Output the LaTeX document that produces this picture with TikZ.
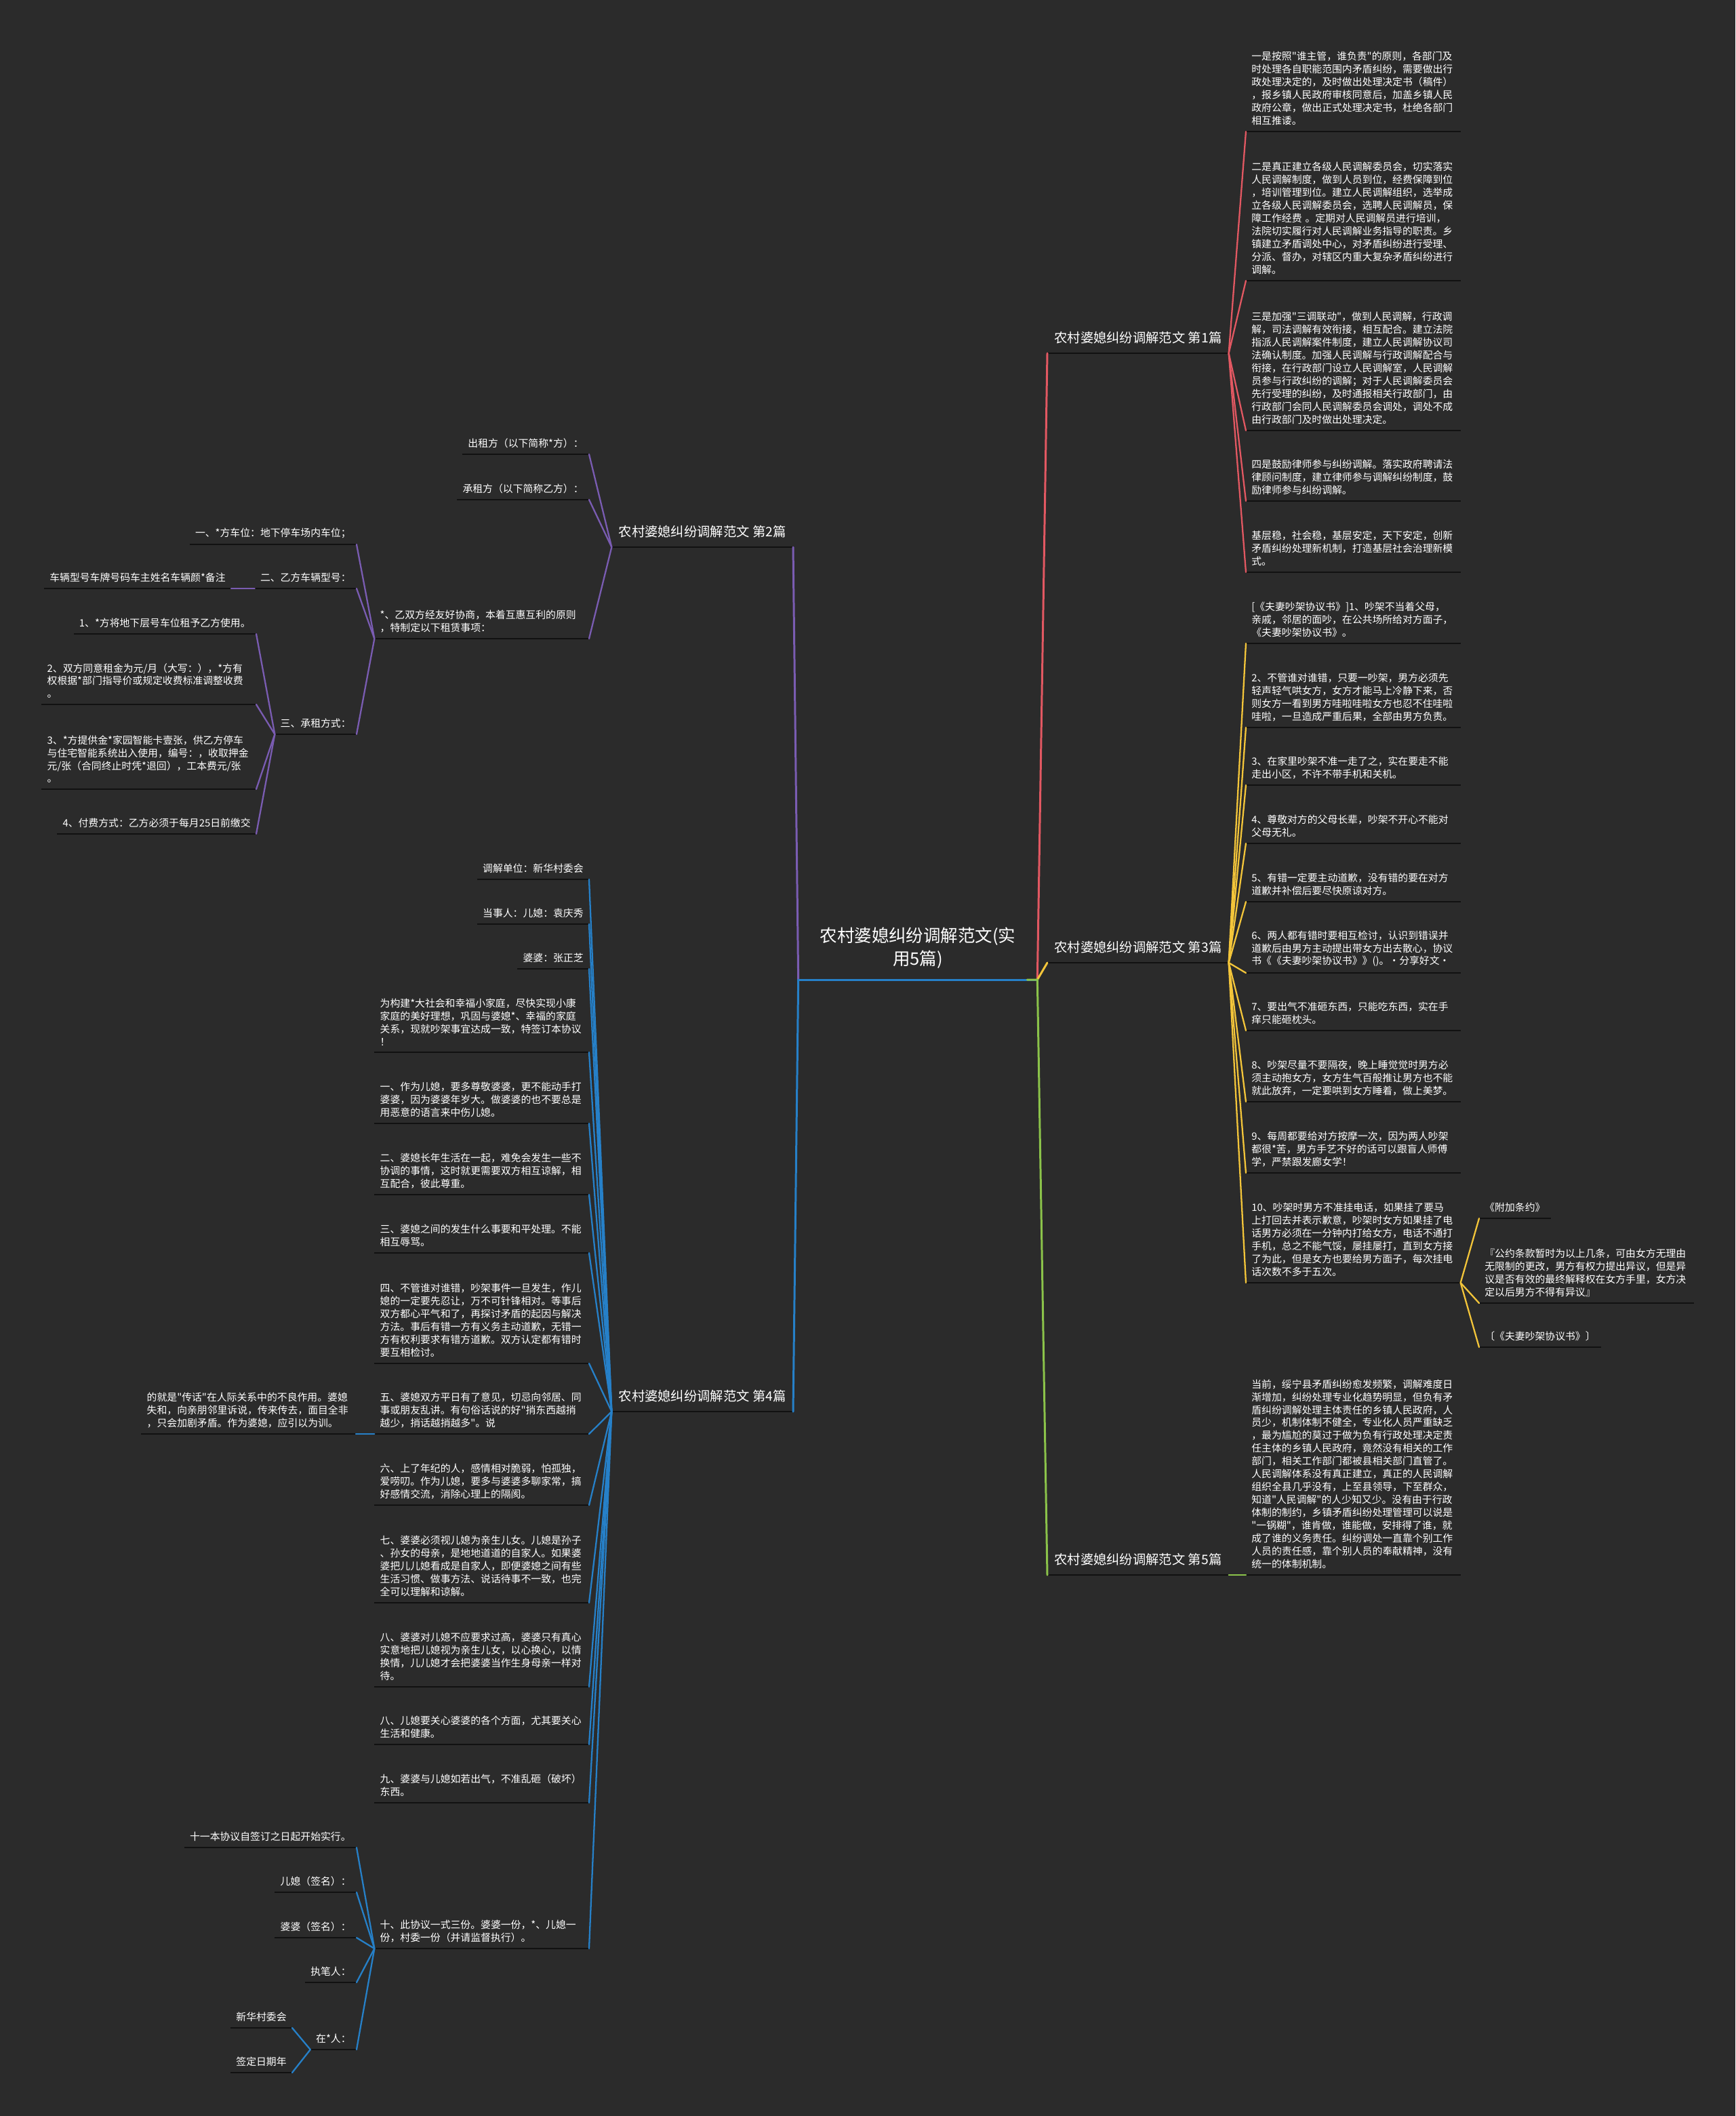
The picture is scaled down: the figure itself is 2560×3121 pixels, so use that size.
\documentclass[tikz,border=0pt]{standalone}
\usepackage{fontspec}
\newfontfamily\cjkfont{Noto Sans CJK SC}
\usepackage{tikz}
\definecolor{bgdark}{HTML}{2B2B2B}
\definecolor{ulblack}{RGB}{17,17,17}
\definecolor{myred}{RGB}{226,88,98}
\definecolor{mypurple}{RGB}{122,92,178}
\definecolor{myyellow}{RGB}{243,197,58}
\definecolor{myblue}{RGB}{38,128,200}
\definecolor{mygreen}{RGB}{139,195,74}
\newcommand{\leaffont}{\cjkfont\fontsize{8.45}{10.8}\selectfont}
\newcommand{\topicfont}{\cjkfont\fontsize{11}{13}\selectfont}
\newcommand{\rootfont}{\cjkfont\fontsize{14.5}{19.8}\selectfont}
\tikzset{
  ul/.style={draw=ulblack, line width=1.6pt},
  leaf/.style={text=white, font=\leaffont, align=left, inner xsep=0.16cm, inner ysep=5pt,
    append after command={(\tikzlastnode.south west) edge[ul] (\tikzlastnode.south east)}},
  wide/.style={text width=6cm},
  topic/.style={text=white, font=\topicfont, inner xsep=0.2cm, inner ysep=7.5pt,
    append after command={(\tikzlastnode.south west) edge[ul] (\tikzlastnode.south east)}},
  rootnode/.style={text=white, font=\rootfont, align=center, minimum width=7.04cm, inner ysep=9pt},
  redline/.style={draw=myred, line width=1.3pt, line cap=round},
  purpleline/.style={draw=mypurple, line width=1.3pt, line cap=round},
  yellowline/.style={draw=myyellow, line width=1.3pt, line cap=round},
  blueline/.style={draw=myblue, line width=1.3pt, line cap=round},
  greenline/.style={draw=mygreen, line width=1.3pt, line cap=round},
  trunk/.style={line width=1.7pt}
}
\begin{document}
\begin{tikzpicture}[x=0.02cm, y=-0.02cm]
  \fill[bgdark] (0,0) rectangle (2560,3121);
  \useasboundingbox (0,0) rectangle (2560,3121);

  % root and topics
  \node[rootnode, anchor=south] (root) at (1354,1445) {农村婆媳纠纷调解范文(实\\用5篇)};
  \node[topic, anchor=south west] (b1) at (1545,521) {农村婆媳纠纷调解范文 第1篇};
  \node[topic, anchor=south east] (b2) at (1170,807) {农村婆媳纠纷调解范文 第2篇};
  \node[topic, anchor=south west] (b3) at (1545,1420) {农村婆媳纠纷调解范文 第3篇};
  \node[topic, anchor=south east] (b4) at (1170,2082) {农村婆媳纠纷调解范文 第4篇};
  \node[topic, anchor=south west] (b5) at (1545,2323) {农村婆媳纠纷调解范文 第5篇};

  % 第1篇
  \node[leaf, wide, anchor=south west] (b1c1) at (1838,194) {一是按照"谁主管，谁负责"的原则，各部门及\\时处理各自职能范围内矛盾纠纷，需要做出行\\政处理决定的，及时做出处理决定书（稿件）\\，报乡镇人民政府审核同意后，加盖乡镇人民\\政府公章，做出正式处理决定书，杜绝各部门\\相互推诿。};
  \node[leaf, wide, anchor=south west] (b1c2) at (1838,414) {二是真正建立各级人民调解委员会，切实落实\\人民调解制度，做到人员到位，经费保障到位\\，培训管理到位。建立人民调解组织，选举成\\立各级人民调解委员会，选聘人民调解员，保\\障工作经费 。定期对人民调解员进行培训，\\法院切实履行对人民调解业务指导的职责。乡\\镇建立矛盾调处中心，对矛盾纠纷进行受理、\\分派、督办，对辖区内重大复杂矛盾纠纷进行\\调解。};
  \node[leaf, wide, anchor=south west] (b1c3) at (1838,635) {三是加强"三调联动"，做到人民调解，行政调\\解，司法调解有效衔接，相互配合。建立法院\\指派人民调解案件制度，建立人民调解协议司\\法确认制度。加强人民调解与行政调解配合与\\衔接，在行政部门设立人民调解室，人民调解\\员参与行政纠纷的调解；对于人民调解委员会\\先行受理的纠纷，及时通报相关行政部门，由\\行政部门会同人民调解委员会调处，调处不成\\由行政部门及时做出处理决定。};
  \node[leaf, wide, anchor=south west] (b1c4) at (1838,739) {四是鼓励律师参与纠纷调解。落实政府聘请法\\律顾问制度，建立律师参与调解纠纷制度，鼓\\励律师参与纠纷调解。};
  \node[leaf, wide, anchor=south west] (b1c5) at (1838,844) {基层稳，社会稳，基层安定，天下安定，创新\\矛盾纠纷处理新机制，打造基层社会治理新模\\式。};

  % 第3篇
  \node[leaf, wide, anchor=south west] (b3c1) at (1838,949) {[《夫妻吵架协议书》]1、吵架不当着父母，\\亲戚，邻居的面吵，在公共场所给对方面子，\\《夫妻吵架协议书》。};
  \node[leaf, wide, anchor=south west] (b3c2) at (1838,1073) {2、不管谁对谁错，只要一吵架，男方必须先\\轻声轻气哄女方，女方才能马上冷静下来，否\\则女方一看到男方哇啦哇啦女方也忍不住哇啦\\哇啦，一旦造成严重后果，全部由男方负责。};
  \node[leaf, wide, anchor=south west] (b3c3) at (1838,1158) {3、在家里吵架不准一走了之，实在要走不能\\走出小区，不许不带手机和关机。};
  \node[leaf, wide, anchor=south west] (b3c4) at (1838,1244) {4、尊敬对方的父母长辈，吵架不开心不能对\\父母无礼。};
  \node[leaf, wide, anchor=south west] (b3c5) at (1838,1330) {5、有错一定要主动道歉，没有错的要在对方\\道歉并补偿后要尽快原谅对方。};
  \node[leaf, wide, anchor=south west] (b3c6) at (1838,1435) {6、两人都有错时要相互检讨，认识到错误并\\道歉后由男方主动提出带女方出去散心，协议\\书《《夫妻吵架协议书》》()。•分享好文•};
  \node[leaf, wide, anchor=south west] (b3c7) at (1838,1520) {7、要出气不准砸东西，只能吃东西，实在手\\痒只能砸枕头。};
  \node[leaf, wide, anchor=south west] (b3c8) at (1838,1625) {8、吵架尽量不要隔夜，晚上睡觉觉时男方必\\须主动抱女方，女方生气百般推让男方也不能\\就此放弃，一定要哄到女方睡着，做上美梦。};
  \node[leaf, wide, anchor=south west] (b3c9) at (1838,1730) {9、每周都要给对方按摩一次，因为两人吵架\\都很*苦，男方手艺不好的话可以跟盲人师傅\\学，严禁跟发廊女学！};
  \node[leaf, wide, anchor=south west] (b3c10) at (1838,1892) {10、吵架时男方不准挂电话，如果挂了要马\\上打回去并表示歉意，吵架时女方如果挂了电\\话男方必须在一分钟内打给女方，电话不通打\\手机，总之不能气馁，屡挂屡打，直到女方接\\了为此，但是女方也要给男方面子，每次挂电\\话次数不多于五次。};
  \node[leaf, anchor=south west] (fj1) at (2182,1797) {《附加条约》};
  \node[leaf, wide, anchor=south west] (fj2) at (2182,1922) {『公约条款暂时为以上几条，可由女方无理由\\无限制的更改，男方有权力提出异议，但是异\\议是否有效的最终解释权在女方手里，女方决\\定以后男方不得有异议』};
  \node[leaf, anchor=south west] (fj3) at (2182,1987) {〔《夫妻吵架协议书》〕};

  % 第5篇
  \node[leaf, wide, anchor=south west] (b5c1) at (1838,2323) {当前，绥宁县矛盾纠纷愈发频繁，调解难度日\\渐增加，纠纷处理专业化趋势明显，但负有矛\\盾纠纷调解处理主体责任的乡镇人民政府，人\\员少，机制体制不健全，专业化人员严重缺乏\\，最为尴尬的莫过于做为负有行政处理决定责\\任主体的乡镇人民政府，竟然没有相关的工作\\部门，相关工作部门都被县相关部门直管了。\\人民调解体系没有真正建立，真正的人民调解\\组织全县几乎没有，上至县领导，下至群众，\\知道"人民调解"的人少知又少。没有由于行政\\体制的制约，乡镇矛盾纠纷处理管理可以说是\\"一锅糊"，谁肯做，谁能做，安排得了谁，就\\成了谁的义务责任。纠纷调处一直靠个别工作\\人员的责任感，靠个别人员的奉献精神，没有\\统一的体制机制。};

  % 第2篇
  \node[leaf, anchor=south east] (b2c1) at (869,670) {出租方（以下简称*方）：};
  \node[leaf, anchor=south east] (b2c2) at (869,737) {承租方（以下简称乙方）：};
  \node[leaf, wide, anchor=south east] (b2c3) at (869,942) {*、乙双方经友好协商，本着互惠互利的原则\\，特制定以下租赁事项：};
  \node[leaf, anchor=south east] (cw1) at (526,803) {一、*方车位：地下停车场内车位；};
  \node[leaf, anchor=south east] (cw2) at (526,868) {二、乙方车辆型号：};
  \node[leaf, anchor=south east] (cw2a) at (341,868) {车辆型号车牌号码车主姓名车辆颜*备注};
  \node[leaf, anchor=south east] (cw3) at (526,1083) {三、承租方式：};
  \node[leaf, anchor=south east] (zf1) at (378,935) {1、*方将地下层号车位租予乙方使用。};
  \node[leaf, wide, anchor=south east] (zf2) at (378,1039) {2、双方同意租金为元/月（大写：），*方有\\权根据*部门指导价或规定收费标准调整收费\\。};
  \node[leaf, wide, anchor=south east] (zf3) at (378,1164) {3、*方提供金*家园智能卡壹张，供乙方停车\\与住宅智能系统出入使用，编号：，收取押金\\元/张（合同终止时凭*退回），工本费元/张\\。};
  \node[leaf, anchor=south east] (zf4) at (378,1230) {4、付费方式：乙方必须于每月25日前缴交};

  % 第4篇
  \node[leaf, anchor=south east] (b4c1) at (869,1297) {调解单位：新华村委会};
  \node[leaf, anchor=south east] (b4c2) at (869,1363) {当事人：儿媳：袁庆秀};
  \node[leaf, anchor=south east] (b4c3) at (869,1429) {婆婆：张正芝};
  \node[leaf, wide, anchor=south east] (b4c4) at (869,1552) {为构建*大社会和幸福小家庭，尽快实现小康\\家庭的美好理想，巩固与婆媳*、幸福的家庭\\关系，现就吵架事宜达成一致，特签订本协议\\！};
  \node[leaf, wide, anchor=south east] (b4c5) at (869,1657) {一、作为儿媳，要多尊敬婆婆，更不能动手打\\婆婆，因为婆婆年岁大。做婆婆的也不要总是\\用恶意的语言来中伤儿媳。};
  \node[leaf, wide, anchor=south east] (b4c6) at (869,1762) {二、婆媳长年生活在一起，难免会发生一些不\\协调的事情，这时就更需要双方相互谅解，相\\互配合，彼此尊重。};
  \node[leaf, wide, anchor=south east] (b4c7) at (869,1848) {三、婆媳之间的发生什么事要和平处理。不能\\相互辱骂。};
  \node[leaf, wide, anchor=south east] (b4c8) at (869,2011) {四、不管谁对谁错，吵架事件一旦发生，作儿\\媳的一定要先忍让，万不可针锋相对。等事后\\双方都心平气和了，再探讨矛盾的起因与解决\\方法。事后有错一方有义务主动道歉，无错一\\方有权利要求有错方道歉。双方认定都有错时\\要互相检讨。};
  \node[leaf, wide, anchor=south east] (b4c9) at (869,2115) {五、婆媳双方平日有了意见，切忌向邻居、同\\事或朋友乱讲。有句俗话说的好"捎东西越捎\\越少，捎话越捎越多"。说};
  \node[leaf, wide, anchor=south east] (b4c9a) at (525,2115) {的就是"传话"在人际关系中的不良作用。婆媳\\失和，向亲朋邻里诉说，传来传去，面目全非\\，只会加剧矛盾。作为婆媳，应引以为训。};
  \node[leaf, wide, anchor=south east] (b4c10) at (869,2220) {六、上了年纪的人，感情相对脆弱，怕孤独，\\爱唠叨。作为儿媳，要多与婆婆多聊家常，搞\\好感情交流，消除心理上的隔阂。};
  \node[leaf, wide, anchor=south east] (b4c11) at (869,2364) {七、婆婆必须视儿媳为亲生儿女。儿媳是孙子\\、孙女的母亲，是地地道道的自家人。如果婆\\婆把儿儿媳看成是自家人，即便婆媳之间有些\\生活习惯、做事方法、说话待事不一致，也完\\全可以理解和谅解。};
  \node[leaf, wide, anchor=south east] (b4c12) at (869,2488) {八、婆婆对儿媳不应要求过高，婆婆只有真心\\实意地把儿媳视为亲生儿女，以心换心，以情\\换情，儿儿媳才会把婆婆当作生身母亲一样对\\待。};
  \node[leaf, wide, anchor=south east] (b4c13) at (869,2573) {八、儿媳要关心婆婆的各个方面，尤其要关心\\生活和健康。};
  \node[leaf, wide, anchor=south east] (b4c14) at (869,2659) {九、婆婆与儿媳如若出气，不准乱砸（破坏）\\东西。};
  \node[leaf, wide, anchor=south east] (b4c15) at (869,2874) {十、此协议一式三份。婆婆一份，*、儿媳一\\份，村委一份（并请监督执行）。};
  \node[leaf, anchor=south east] (qm1) at (526,2725) {十一本协议自签订之日起开始实行。};
  \node[leaf, anchor=south east] (qm2) at (526,2791) {儿媳（签名）：};
  \node[leaf, anchor=south east] (qm3) at (526,2858) {婆婆（签名）：};
  \node[leaf, anchor=south east] (qm4) at (526,2924) {执笔人：};
  \node[leaf, anchor=south east] (qm5) at (526,3023) {在*人：};
  \node[leaf, anchor=south east] (zr1) at (431,2991) {新华村委会};
  \node[leaf, anchor=south east] (zr2) at (431,3057) {签定日期年};

  % trunks
  \draw[blueline, trunk] (root.south west) -- (root.south east);
  \draw[purpleline, trunk] (root.south west) -- (b2.south east);
  \draw[blueline, trunk] (root.south west) -- (b4.south east);
  \draw[redline, trunk] (root.south east) -- (b1.south west);
  \draw[yellowline, trunk] (root.south east) -- (b3.south west);
  \draw[greenline, trunk] ([xshift=-0.3cm]root.south east) -- (root.south east) -- (b5.south west);

  % 第1篇 connectors
  \draw[redline] (b1.south east) -- (b1c1.south west);
  \draw[redline] (b1.south east) -- (b1c2.south west);
  \draw[redline] (b1.south east) -- (b1c3.south west);
  \draw[redline] (b1.south east) -- (b1c4.south west);
  \draw[redline] (b1.south east) -- (b1c5.south west);

  % 第3篇 connectors
  \draw[yellowline] (b3.south east) -- (b3c1.south west);
  \draw[yellowline] (b3.south east) -- (b3c2.south west);
  \draw[yellowline] (b3.south east) -- (b3c3.south west);
  \draw[yellowline] (b3.south east) -- (b3c4.south west);
  \draw[yellowline] (b3.south east) -- (b3c5.south west);
  \draw[yellowline] (b3.south east) -- (b3c6.south west);
  \draw[yellowline] (b3.south east) -- (b3c7.south west);
  \draw[yellowline] (b3.south east) -- (b3c8.south west);
  \draw[yellowline] (b3.south east) -- (b3c9.south west);
  \draw[yellowline] (b3.south east) -- (b3c10.south west);
  \draw[yellowline] (b3c10.south east) -- (fj1.south west);
  \draw[yellowline] (b3c10.south east) -- (fj2.south west);
  \draw[yellowline] (b3c10.south east) -- (fj3.south west);

  % 第5篇 connector
  \draw[greenline] (b5.south east) -- (b5c1.south west);

  % 第2篇 connectors
  \draw[purpleline] (b2.south west) -- (b2c1.south east);
  \draw[purpleline] (b2.south west) -- (b2c2.south east);
  \draw[purpleline] (b2.south west) -- (b2c3.south east);
  \draw[purpleline] (b2c3.south west) -- (cw1.south east);
  \draw[purpleline] (b2c3.south west) -- (cw2.south east);
  \draw[purpleline] (b2c3.south west) -- (cw3.south east);
  \draw[purpleline] (cw2.south west) -- (cw2a.south east);
  \draw[purpleline] (cw3.south west) -- (zf1.south east);
  \draw[purpleline] (cw3.south west) -- (zf2.south east);
  \draw[purpleline] (cw3.south west) -- (zf3.south east);
  \draw[purpleline] (cw3.south west) -- (zf4.south east);

  % 第4篇 connectors
  \draw[blueline] (b4.south west) -- (b4c1.south east);
  \draw[blueline] (b4.south west) -- (b4c2.south east);
  \draw[blueline] (b4.south west) -- (b4c3.south east);
  \draw[blueline] (b4.south west) -- (b4c4.south east);
  \draw[blueline] (b4.south west) -- (b4c5.south east);
  \draw[blueline] (b4.south west) -- (b4c6.south east);
  \draw[blueline] (b4.south west) -- (b4c7.south east);
  \draw[blueline] (b4.south west) -- (b4c8.south east);
  \draw[blueline] (b4.south west) -- (b4c9.south east);
  \draw[blueline] (b4.south west) -- (b4c10.south east);
  \draw[blueline] (b4.south west) -- (b4c11.south east);
  \draw[blueline] (b4.south west) -- (b4c12.south east);
  \draw[blueline] (b4.south west) -- (b4c13.south east);
  \draw[blueline] (b4.south west) -- (b4c14.south east);
  \draw[blueline] (b4.south west) -- (b4c15.south east);
  \draw[blueline] (b4c9.south west) -- (b4c9a.south east);
  \draw[blueline] (b4c15.south west) -- (qm1.south east);
  \draw[blueline] (b4c15.south west) -- (qm2.south east);
  \draw[blueline] (b4c15.south west) -- (qm3.south east);
  \draw[blueline] (b4c15.south west) -- (qm4.south east);
  \draw[blueline] (b4c15.south west) -- (qm5.south east);
  \draw[blueline] (qm5.south west) -- (zr1.south east);
  \draw[blueline] (qm5.south west) -- (zr2.south east);
\end{tikzpicture}
\end{document}
